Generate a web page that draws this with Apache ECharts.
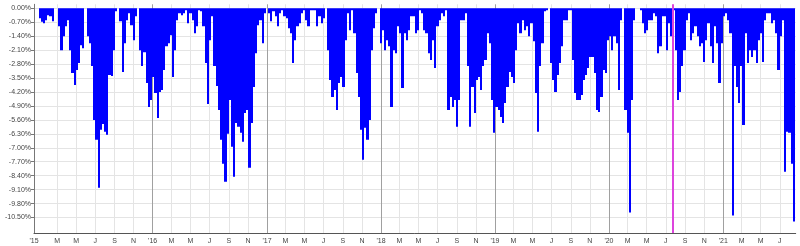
<!DOCTYPE html>
<html>
<head>
<meta charset="utf-8">
<script src="https://cdn.jsdelivr.net/npm/echarts@6/dist/echarts.min.js"></script>
<style>
html,body{margin:0;padding:0;background:#ffffff;}
#chart{width:800px;height:246px;}
</style>
</head>
<body>
<div id="chart"></div>
<script>
// ---- data (weekly drawdown, %; week 0 starts 2015-01-01) ----
const seriesStart = '2015-01-01';
const weeklyDrawdown = [
 -0.5,-0.67,-0.75,-0.6,-0.35,-0.4,-0.65,0,0,-0.9,
 -2.1,-1.4,-0.9,-0.6,-2.1,-3.25,-3.85,-3.1,-2.75,-1.85,
 -2.0,0,-1.4,-1.75,-2.9,-5.6,-6.6,-9.0,-6.1,-5.8,
 -6.2,-6.35,-3.35,-3.4,-2.1,-0.15,0,-0.65,-3.2,-1.75,
 -0.6,-0.25,-0.85,-1.6,-0.4,0,-2.1,-2.9,-2.2,-3.75,
 -4.95,-4.6,-3.45,-4.25,-5.5,-4.2,-4.1,-3.1,-1.9,-1.75,
 -1.35,-3.45,-2.1,-0.6,-0.25,-0.35,-0.25,-0.1,-0.75,-0.25,
 -0.6,-1.25,-0.9,-0.1,-0.15,-0.9,-2.75,-4.8,-1.6,-0.4,
 -2.9,-3.9,-5.1,-6.6,-7.8,-8.7,-6.3,-4.6,-6.95,-8.45,
 -5.75,-5.95,-6.25,-6.7,-5.25,-5.1,-8.0,-5.75,-3.95,-2.25,
 -0.85,-0.6,-1.75,-0.25,0,-0.25,-0.65,-0.15,-0.4,-0.9,
 -0.25,-0.1,-0.4,-0.5,-1.0,-1.25,-2.75,-1.6,-0.9,-0.75,
 -0.25,-0.1,-0.6,-0.9,-0.1,-0.1,-0.1,-0.9,-0.4,-0.75,
 -0.5,0,-2.1,-3.6,-4.45,-4.1,-5.1,-3.75,-3.45,-3.95,
 -1.6,-0.25,-1.1,-0.1,-1.25,-3.25,-4.45,-6.1,-7.6,-6.0,
 -6.6,-5.6,-2.1,-1.0,-0.25,0,-1.75,-1.1,-2.1,-1.6,
 -1.9,-4.95,-2.1,-2.25,-0.9,-1.25,-4.0,-1.25,-1.6,-1.1,
 -0.4,-0.4,-1.25,-1.1,-0.1,-0.25,-1.1,-1.25,-2.25,-2.6,
 -1.6,-3.0,-0.9,-0.6,-0.25,-0.4,-0.1,-5.1,-4.45,-4.95,
 -4.6,-5.95,-4.6,-0.6,-0.6,-0.25,-2.9,-5.95,-3.95,-5.25,
 -3.6,-3.45,-4.1,-2.9,-2.6,-1.25,-1.75,-4.6,-6.25,-4.95,
 -5.1,-5.45,-5.75,-4.75,-3.95,-3.2,-3.45,-3.75,-2.1,-0.75,
 -1.25,-0.6,-1.1,-0.9,-1.4,-0.75,-1.65,-4.25,-6.2,-2.9,
 -1.75,-0.15,-0.1,0,-2.75,-3.6,-4.2,-3.35,-2.75,-1.9,
 -0.6,-0.6,-0.1,-0.1,-2.6,-4.25,-4.6,-4.6,-4.35,-3.6,
 -3.35,-3.0,-2.45,-2.45,-3.25,-5.1,-5.2,-4.45,-3.1,-3.25,
 -1.6,-1.4,-2.1,-1.4,-1.75,-4.1,-0.6,0,-5.1,-6.25,
 -10.25,-4.6,-0.6,0,0,-0.1,-0.75,-1.25,-1.1,-0.6,
 -0.6,-0.25,-0.4,-2.25,-1.9,-0.4,-0.4,-2.1,-0.75,-1.4,
 -0.1,-2.1,-4.6,-4.2,-2.9,-2.1,-0.6,-0.25,-1.6,-1.25,
 -0.9,-1.4,-1.9,-1.75,-2.7,-1.6,-0.75,-1.9,-2.75,-0.9,
 -1.75,-3.75,-1.75,-0.4,-0.25,-0.6,-1.25,-10.4,-2.9,-3.95,
 -4.75,-2.9,-5.85,-1.25,-2.75,-2.1,-2.45,-2.1,-2.75,-1.6,
 -1.25,-2.7,-0.6,-0.25,-0.25,-0.75,-0.6,-1.25,-3.1,-1.4,
 -0.6,-8.2,-6.2,-6.25,-7.8,-10.7
];
const yTickValues = [0,-0.7,-1.4,-2.1,-2.8,-3.5,-4.2,-4.9,-5.6,-6.3,-7.0,-7.7,-8.4,-9.1,-9.8,-10.5];
const tickYears = [2015,2016,2017,2018,2019,2020,2021];
const tickMonths = [3,5,7,9,11];
const tickMonthLabels = ['M','M','J','S','N'];
const firstYearLabel = "'15";
const highlightDate = [2020,7,24];

// ---- helpers ----
const t0 = Date.parse(seriesStart + 'T00:00:00Z');
function dayIndex(y,m,d){ return Math.round((Date.UTC(y,m-1,d)-t0)/86400000); }
const xMin = -15, xMax = 2424;
const daysPerBar = 7;

const barData = weeklyDrawdown.map((v,i)=>[daysPerBar*i+3, v]);

const labelMap = {};
const labelDays = [xMin];
labelMap[xMin] = firstYearLabel;
const gridDays = [];
const yearLineDays = [];
tickYears.forEach(y=>{
  if (y > tickYears[0]) {
    const d = dayIndex(y,1,1);
    if (d <= xMax) { labelDays.push(d); labelMap[d] = "'" + String(y).slice(2); yearLineDays.push(d); }
  }
  tickMonths.forEach((m,k)=>{
    const d = dayIndex(y,m,1);
    if (d <= xMax) { labelDays.push(d); gridDays.push(d); labelMap[d] = tickMonthLabels[k]; }
  });
});
labelDays.sort((a,b)=>a-b);
gridDays.sort((a,b)=>a-b);

function renderBar(params, api) {
  const x = api.value(0), v = api.value(1);
  if (!v) return null;
  const p0 = api.coord([x - daysPerBar/2, 0]);
  const p1 = api.coord([x + daysPerBar/2, v]);
  const xa = Math.round(p0[0]), xb = Math.round(p1[0]);
  return {
    type: 'rect',
    shape: { x: xa, y: p0[1], width: Math.max(1, xb - xa), height: p1[1] - p0[1] },
    style: { fill: '#0000ff' }
  };
}

const chart = echarts.init(document.getElementById('chart'), null, {renderer:'canvas'});
const font = 'Liberation Sans';
chart.setOption({
  animation: false,
  backgroundColor: '#ffffff',
  grid: { left: 34, right: 4.3, top: 4.3, bottom: 12.9, containLabel: false, outerBoundsMode: 'none' },
  xAxis: {
    type: 'value',
    min: xMin, max: xMax,
    axisLine: { show: true, onZero: false, lineStyle: { color: '#555555', width: 1 } },
    axisTick: { show: false, customValues: gridDays },
    splitLine: { show: true, lineStyle: { color: '#e4e4e4', width: 1 } },
    axisLabel: {
      customValues: labelDays,
      formatter: v => labelMap[Math.round(v)] || '',
      fontFamily: font, fontSize: 7, color: '#444444', margin: 4
    }
  },
  yAxis: {
    type: 'value',
    min: -11.28, max: 0.2,
    axisLine: { show: true, onZero: false, lineStyle: { color: '#777777', width: 1 } },
    axisTick: { show: true, length: 3, customValues: yTickValues, lineStyle: { color: '#777777' } },
    splitLine: { show: true, lineStyle: { color: '#e4e4e4', width: 1 } },
    axisLabel: {
      customValues: yTickValues,
      formatter: v => v.toFixed(2) + '%',
      fontFamily: font, fontSize: 7, color: '#444444', margin: 3
    }
  },
  series: [
    {
      type: 'custom',
      data: barData,
      encode: { x: 0, y: 1 },
      renderItem: renderBar,
      z: 2,
      silent: true,
      clip: true,
      markLine: {
        z: 1,
        silent: true,
        symbol: ['none','none'],
        label: { show: false },
        lineStyle: { color: '#a0a0a0', width: 1, type: 'solid' },
        data: yearLineDays.map(d=>({ xAxis: d }))
      }
    },
    {
      type: 'line',
      data: [],
      z: 5,
      silent: true,
      markLine: {
        silent: true,
        symbol: ['none','none'],
        label: { show: false },
        lineStyle: { color: '#dd44dd', width: 2, type: 'solid' },
        data: [{ xAxis: dayIndex(highlightDate[0], highlightDate[1], highlightDate[2]) }]
      }
    }
  ]
});
</script>
</body>
</html>
